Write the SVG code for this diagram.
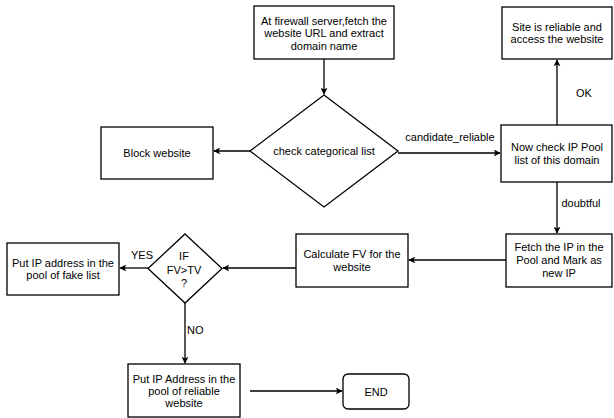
<svg xmlns="http://www.w3.org/2000/svg" width="614" height="418" viewBox="0 0 614 418">
<style>
.n{fill:#fff;stroke:#000;stroke-width:1.3}
.t{font-family:"Liberation Sans",Arial,sans-serif;font-size:11px;fill:#000;text-anchor:middle}
.l{font-family:"Liberation Sans",Arial,sans-serif;font-size:11px;fill:#000}
.c{fill:none;stroke:#000;stroke-width:1.3}
</style>
<defs>
<marker id="a" viewBox="0 0 10 10" refX="9" refY="5" markerWidth="7" markerHeight="7" markerUnits="userSpaceOnUse" orient="auto">
<path d="M0,0 L10,5 L0,10 L2.5,5 Z" fill="#000"/>
</marker>
</defs>
<rect width="614" height="418" fill="#fff"/>
<g id="connectors">
<line class="c" x1="324" y1="59" x2="324" y2="94" marker-end="url(#a)"/>
<line class="c" x1="250" y1="151" x2="214" y2="151" marker-end="url(#a)"/>
<line class="c" x1="398" y1="153" x2="500" y2="153" marker-end="url(#a)"/>
<line class="c" x1="557" y1="125" x2="557" y2="60" marker-end="url(#a)"/>
<line class="c" x1="557" y1="182" x2="557" y2="233" marker-end="url(#a)"/>
<line class="c" x1="506" y1="260" x2="409" y2="260" marker-end="url(#a)"/>
<line class="c" x1="296" y1="268" x2="223" y2="268" marker-end="url(#a)"/>
<line class="c" x1="148" y1="268" x2="120" y2="268" marker-end="url(#a)"/>
<line class="c" x1="185" y1="303" x2="185" y2="363" marker-end="url(#a)"/>
<line class="c" x1="250" y1="391" x2="342" y2="391" marker-end="url(#a)"/>
<text class="l" x="450" y="140.5" text-anchor="middle">candidate_reliable</text>
<text class="l" x="584" y="97" text-anchor="middle">OK</text>
<text class="l" x="581" y="207" text-anchor="middle">doubtful</text>
<text class="l" x="142" y="259" text-anchor="middle">YES</text>
<text class="l" x="187" y="334">NO</text>
</g>
<g id="start">
<rect class="n" x="254" y="6" width="140" height="53"/>
<text class="t" x="324" y="24.5">At firewall server,fetch the</text>
<text class="t" x="324" y="37">website URL and extract</text>
<text class="t" x="324" y="49.5">domain name</text>
</g>
<g id="check-list">
<polygon class="n" points="324,95 398,151 324,207 250,151"/>
<text class="t" x="324" y="155">check categorical list</text>
</g>
<g id="block">
<rect class="n" x="101" y="127" width="112" height="52"/>
<text class="t" x="157" y="156.5">Block website</text>
</g>
<g id="reliable-site">
<rect class="n" x="502" y="7" width="110" height="52"/>
<text class="t" x="557" y="30.5">Site is reliable and</text>
<text class="t" x="557" y="43">access the website</text>
</g>
<g id="ip-pool">
<rect class="n" x="501" y="125" width="111" height="57"/>
<text class="t" x="557" y="150.5">Now check IP Pool</text>
<text class="t" x="557" y="164">list of this domain</text>
</g>
<g id="fetch-ip">
<rect class="n" x="506" y="234" width="106" height="53"/>
<text class="t" x="559" y="251">Fetch the IP in the</text>
<text class="t" x="559" y="264">Pool and Mark as</text>
<text class="t" x="559" y="277">new IP</text>
</g>
<g id="calc-fv">
<rect class="n" x="296" y="234" width="112" height="53"/>
<text class="t" x="352" y="257.5">Calculate FV for the</text>
<text class="t" x="352" y="270.5">website</text>
</g>
<g id="fv-tv">
<polygon class="n" points="185,234 222,268.5 185,303 148,268.5"/>
<text class="t" x="184" y="260">IF</text>
<text class="t" x="184" y="274">FV&gt;TV</text>
<text class="t" x="184" y="287">?</text>
</g>
<g id="fake-list">
<rect class="n" x="7" y="243" width="112" height="52"/>
<text class="t" x="63" y="266.5">Put IP address in the</text>
<text class="t" x="63" y="279">pool of fake list</text>
</g>
<g id="reliable-pool">
<rect class="n" x="128" y="364" width="112" height="53"/>
<text class="t" x="184" y="383">Put IP Address in the</text>
<text class="t" x="184" y="395">pool of reliable</text>
<text class="t" x="184" y="407">website</text>
</g>
<g id="end">
<rect class="n" x="343" y="374" width="66" height="35" rx="5"/>
<text class="t" x="376" y="395.5">END</text>
</g>
</svg>
